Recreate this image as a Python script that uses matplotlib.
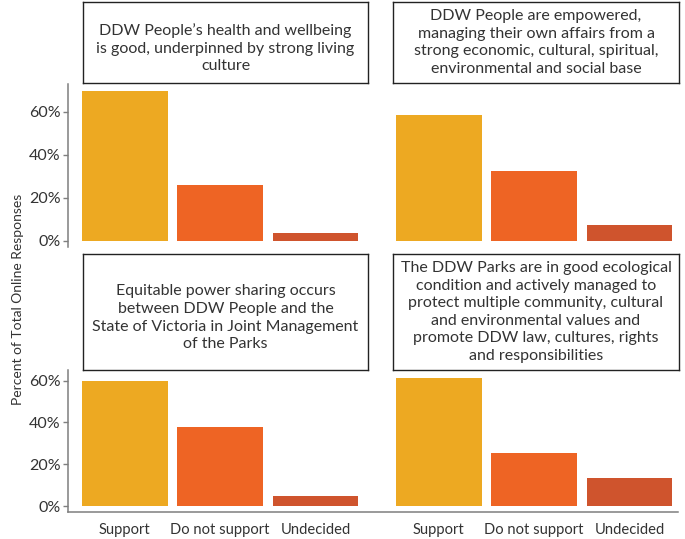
import matplotlib
matplotlib.use('Agg')
import matplotlib.pyplot as plt
from matplotlib.lines import Line2D
from matplotlib.ticker import FuncFormatter

plt.rcParams['font.family'] = ['Lato', 'DejaVu Sans']

# data
categories = ['Support', 'Do not support', 'Undecided']
titles = [
    'DDW People\u2019s health and wellbeing\nis good, underpinned by strong living\nculture',
    'DDW People are empowered,\nmanaging their own affairs from a\nstrong economic, cultural, spiritual,\nenvironmental and social base',
    'Equitable power sharing occurs\nbetween DDW People and the\nState of Victoria in Joint Management\nof the Parks',
    'The DDW Parks are in good ecological\ncondition and actively managed to\nprotect multiple community, cultural\nand environmental values and\npromote DDW law, cultures, rights\nand responsibilities',
]
health = [69.8, 26.0, 3.7]
empowered = [58.6, 32.5, 7.4]
power_sharing = [59.8, 37.8, 4.8]
parks = [61.2, 25.5, 13.4]
values = [health, empowered, power_sharing, parks]
colors = ['#EDA922', '#EE6424', '#CF542D']
text_col = '#333333'
axis_col = '#7f7f7f'

W, H = 685, 539
fig = plt.figure(figsize=(W / 100, H / 100), dpi=100)


def box(x0, y0, x1, y1):
    # pixel box (top-left origin) -> figure fraction rect
    return [x0 / W, 1 - y1 / H, (x1 - x0) / W, (y1 - y0) / H]


# panel layout in pixels: (x0, x1) columns, (y0, y1, strip_y0, strip_y1, ylim) rows
cols = [(81, 366, 83, 368), (395, 680, 393, 679)]
rows = [(84, 247, 2, 83, (-2.8, 73.0)), (370, 511.7, 254, 370, (-2.7, 65.1))]
title_y = [0.43, 0.5, 0.45, 0.5]

for i in range(4):
    r, c = divmod(i, 2)
    x0, x1, sx0, sx1 = cols[c]
    y0, y1, sy0, sy1, ylim = rows[r]

    ax = fig.add_axes(box(x0, y0, x1, y1))
    ax.bar(range(3), values[i], width=0.9, color=colors)
    ax.set_xlim(-0.46, 2.53)
    ax.set_ylim(*ylim)
    for s in ax.spines.values():
        s.set_visible(False)
    ax.set_yticks([0, 20, 40, 60])
    ax.yaxis.set_major_formatter(FuncFormatter(lambda v, p: f'{v:.0f}%'))
    if c == 0:
        ax.spines['left'].set_visible(True)
        ax.spines['left'].set_position(('outward', 9.6))
        ax.spines['left'].set_color(axis_col)
        ax.spines['left'].set_linewidth(1.1)
        ax.tick_params(axis='y', length=3.5, width=1, color=axis_col,
                       labelsize=11.5, labelcolor=text_col, pad=1.5)
    else:
        ax.tick_params(axis='y', left=False, labelleft=False)
    ax.set_xticks(range(3))
    if r == 1:
        ax.set_xticklabels(categories, fontsize=10.6, color=text_col)
        ax.tick_params(axis='x', length=0, pad=8)
    else:
        ax.tick_params(axis='x', bottom=False, labelbottom=False)

    # strip
    sax = fig.add_axes(box(sx0, sy0, sx1, sy1))
    sax.set_xticks([])
    sax.set_yticks([])
    for s in sax.spines.values():
        s.set_color('#222222')
        s.set_linewidth(1.0)
    sax.text(0.5, title_y[i], titles[i], ha='center', va='center', fontsize=11.5,
             color=text_col, linespacing=1.33, transform=sax.transAxes)

# continuous bottom axis line across lower row
fig.add_artist(Line2D([68 / W, 678 / W], [1 - 511.7 / H] * 2, color=axis_col, lw=1.1))

fig.text(18 / W, 1 - 299 / H, 'Percent of Total Online Responses', rotation=90,
         ha='center', va='center', fontsize=10, color=text_col)

fig.savefig('out.png', dpi=100)
